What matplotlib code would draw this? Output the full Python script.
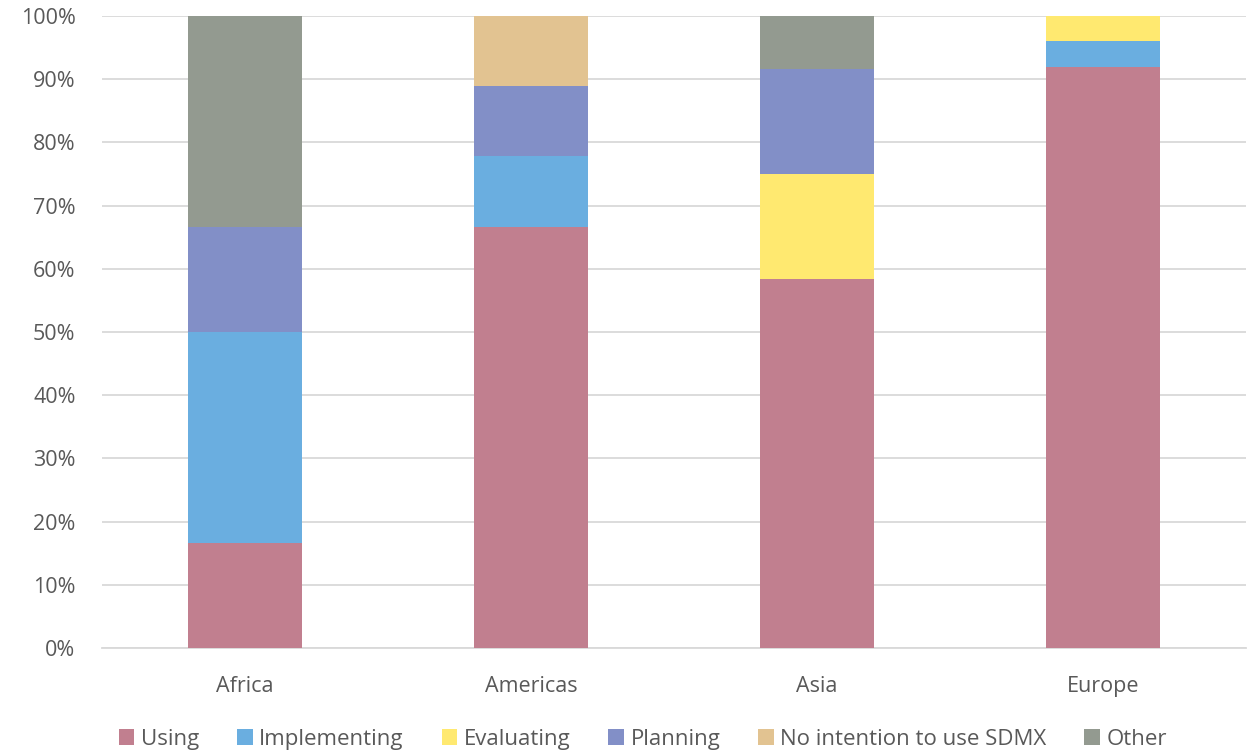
import matplotlib.pyplot as plt
import numpy as np

plt.rcParams['font.family'] = ['Open Sans', 'DejaVu Sans']

regions = ['Africa', 'Americas', 'Asia', 'Europe']
series = ['Using', 'Implementing', 'Evaluating', 'Planning',
          'No intention to use SDMX', 'Other']
using = [16.67, 66.67, 58.33, 92.0]
implementing = [33.33, 11.11, 0.0, 4.0]
evaluating = [0.0, 0.0, 16.67, 4.0]
planning = [16.67, 11.11, 16.67, 0.0]
no_intention = [0.0, 11.11, 0.0, 0.0]
other = [33.33, 0.0, 8.33, 0.0]
colors = ['#C17F8F', '#6AAEE0', '#FFE970', '#828FC7', '#E2C391', '#939A90']

values = [using, implementing, evaluating, planning, no_intention, other]

fig = plt.figure(figsize=(12.5, 7.55), dpi=100)
ax = fig.add_axes([0.0816, 0.1417, 0.915, 0.837])

x = np.arange(len(regions))
bottom = np.zeros(len(regions))
for name, vals, c in zip(series, values, colors):
    ax.bar(x, vals, 0.4, bottom=bottom, color=c, label=name, zorder=3)
    bottom += np.array(vals)

ax.set_xlim(-0.5, 3.5)
ax.set_ylim(0, 100)
ax.set_yticks(np.arange(0, 101, 10))
ax.set_yticklabels([f'{v}%' for v in range(0, 101, 10)])
ax.set_xticks(x)
ax.set_xticklabels(regions)
ax.grid(axis='y', color='#D9D9D9', linewidth=1.3, zorder=0)
for s in ['top', 'right', 'left']:
    ax.spines[s].set_visible(False)
ax.spines['bottom'].set_color('#D9D9D9')
ax.spines['bottom'].set_linewidth(1.3)
ax.tick_params(axis='both', length=0, labelsize=15.5, colors='#595959')
ax.tick_params(axis='y', pad=19)
ax.tick_params(axis='x', pad=20)

ax.legend(loc='lower center', bbox_to_anchor=(0.473, -0.175), ncol=6, frameon=False,
          fontsize=16, labelcolor='#595959', handlelength=0.7, handleheight=0.7,
          handletextpad=0.3, columnspacing=1.7, borderaxespad=0)

fig.savefig('out.png', dpi=100)
